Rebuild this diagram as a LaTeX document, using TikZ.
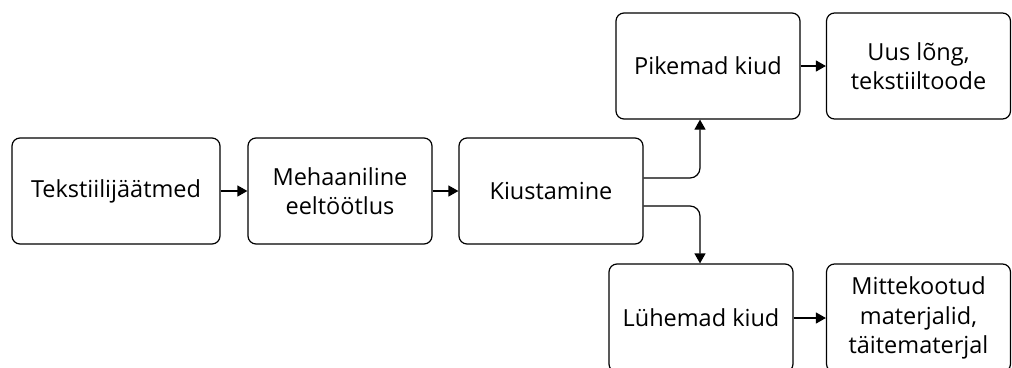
\documentclass[tikz,border=0pt]{standalone}
\usepackage{fontspec}
\setmainfont{Open Sans}
\usepackage{tikz}
\usetikzlibrary{positioning,calc,arrows.meta}

\begin{document}
\begin{tikzpicture}[x=1pt,y=-1pt,
        box/.style={draw, line width=1.2pt, rounded corners=8pt, minimum width=184pt, minimum height=106pt, inner sep=0pt, align=center, font=\fontsize{23.5}{29.5}\selectfont},
        arr/.style={-{Triangle[length=10pt,width=11pt]}, line width=1.2pt}]
        \useasboundingbox (0,0) rectangle (1012,367);
        \node[box, minimum width=208pt] (tek) at (116,191) {Tekstiilijäätmed};
        \node[box] (meh) at (340,191) {Mehaaniline\\eeltöötlus};
        \node[box] (kiu) at (551,191) {Kiustamine};
        \node[box] (pik) at (708,66) {Pikemad kiud};
        \node[box] (uus) at (918.5,66) {Uus lõng,\\tekstiiltoode};
        \node[box, minimum height=108pt] (luh) at (701,318) {Lühemad kiud};
        \node[box, minimum height=108pt] (mit) at (918.5,318) {Mittekootud\\materjalid,\\täitematerjal};
        \draw[arr] (tek) -- (meh);
        \draw[arr] (meh) -- (kiu);
        \draw[arr] (pik) -- (uus);
        \draw[arr] (luh) -- (mit);
        \draw[arr, rounded corners=10pt] ([yshift=13pt]kiu.east) -| ([xshift=-8pt]pik.south);
        \draw[arr, rounded corners=10pt] ([yshift=-15pt]kiu.east) -| ([xshift=-1pt]luh.north);
\end{tikzpicture}
\end{document}
